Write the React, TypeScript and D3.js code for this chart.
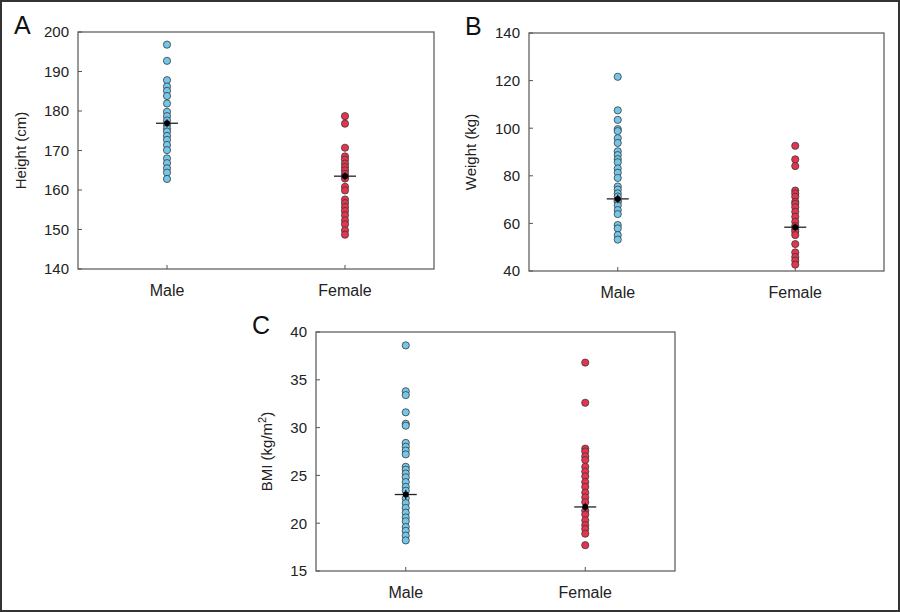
import React from "react";
import * as d3 from "d3";

const groups = ["Male", "Female"];

const heightMale = [196.8, 192.7, 187.8, 186.2, 185.1, 183.8, 181.9, 179.8, 178.7, 177.6, 176.5, 175.5, 174.8, 173.7, 172.7, 171.4, 170.1, 168.0, 166.8, 165.5, 164.4, 162.8];
const heightFemale = [178.7, 176.8, 170.7, 168.5, 167.7, 166.7, 165.8, 165.0, 164.1, 163.3, 162.9, 160.8, 159.9, 157.6, 156.7, 155.7, 154.7, 153.6, 152.3, 151.3, 149.8, 148.7];
const weightMale = [121.6, 107.5, 103.5, 99.6, 98.8, 95.8, 93.8, 90.3, 88.7, 87.0, 85.7, 83.1, 81.3, 79.1, 75.5, 74.2, 72.6, 71.3, 69.5, 69.1, 67.6, 65.6, 63.9, 59.3, 57.9, 55.1, 53.2];
const weightFemale = [92.6, 86.9, 84.1, 73.8, 72.6, 71.2, 69.1, 68.2, 66.8, 64.9, 62.8, 60.7, 58.9, 57.5, 56.5, 55.1, 51.3, 47.8, 45.9, 44.4, 42.7];
const bmiMale = [38.6, 33.8, 33.4, 31.6, 30.4, 30.2, 28.4, 28.0, 27.6, 27.2, 25.9, 25.6, 25.2, 24.8, 24.3, 23.8, 23.4, 22.6, 22.1, 21.6, 21.1, 20.6, 20.2, 19.6, 19.2, 18.7, 18.2];
const bmiFemale = [36.8, 32.6, 27.8, 27.5, 27.0, 26.6, 25.9, 25.4, 24.9, 24.3, 23.8, 23.2, 22.7, 22.2, 21.3, 20.9, 20.3, 19.8, 19.4, 18.9, 17.7];

const heightMeans = [176.9, 163.5];
const weightMeans = [70.3, 58.4];
const bmiMeans = [23.0, 21.7];
const heightSem = [1.0, 1.0];
const weightSem = [1.8, 1.6];
const bmiSem = [0.5, 0.45];

const heightTicks = [140, 150, 160, 170, 180, 190, 200];
const weightTicks = [40, 60, 80, 100, 120, 140];
const bmiTicks = [15, 20, 25, 30, 35, 40];

const COLORS = ["#72c7ea", "#e5344f"];
const FONT = "'Liberation Sans', Arial, sans-serif";

type PanelProps = {
  letter: string;
  box: { x0: number; x1: number; y0: number; y1: number };
  domain: [number, number];
  ticks: number[];
  series: number[][];
  means: number[];
  sem: number[];
  title: React.ReactNode;
  titleX: number;
};

function Panel({ letter, box, domain, ticks, series, means, sem, title, titleX }: PanelProps) {
  const x = d3.scalePoint<string>().domain(groups).range([box.x0, box.x1]).padding(0.5);
  const y = d3.scaleLinear().domain(domain).range([box.y1, box.y0]);
  const tl = 4;
  return (
    <g fontFamily={FONT}>
      <text x={box.x0 - 64} y={box.y0 + 2} fontSize={25} fill="#111">{letter}</text>
      <rect x={box.x0} y={box.y0} width={box.x1 - box.x0} height={box.y1 - box.y0} fill="none" stroke="#555" strokeWidth={1.2} />
      {ticks.map((t) => (
        <g key={t}>
          <line x1={box.x0} x2={box.x0 + tl} y1={y(t)} y2={y(t)} stroke="#555" strokeWidth={1} />
          <text x={box.x0 - 9} y={y(t)} dy="0.36em" textAnchor="end" fontSize={15} fill="#222">{t}</text>
        </g>
      ))}
      {groups.map((g) => (
        <g key={g}>
          <line x1={x(g)} x2={x(g)} y1={box.y1} y2={box.y1 - tl} stroke="#555" strokeWidth={1} />
          <text x={x(g)} y={box.y1 + 27} textAnchor="middle" fontSize={16} fill="#222">{g}</text>
        </g>
      ))}
      <text transform={`translate(${titleX},${(box.y0 + box.y1) / 2}) rotate(-90)`} textAnchor="middle" fontSize={15} fill="#222">{title}</text>
      {series.map((vals, gi) =>
        vals.map((v, i) => (
          <circle key={`${gi}-${i}`} cx={x(groups[gi])} cy={y(v)} r={3.6} fill={COLORS[gi]} stroke="#3a3a3a" strokeWidth={0.8} />
        ))
      )}
      {means.map((m, gi) => {
        const cx = x(groups[gi]) as number;
        return (
          <g key={`m${gi}`}>
            <line x1={cx - 11} x2={cx + 11} y1={y(m)} y2={y(m)} stroke="#222" strokeWidth={1.3} />
            <line x1={cx} x2={cx} y1={y(m - sem[gi])} y2={y(m + sem[gi])} stroke="#222" strokeWidth={1.3} />
            <circle cx={cx} cy={y(m)} r={3} fill="#000" />
          </g>
        );
      })}
    </g>
  );
}

export default function App() {
  return (
    <div style={{ position: "absolute", left: 0, top: 0 }}>
      <svg width={900} height={612} style={{ display: "block", background: "#fff" }}>
        <rect x={1} y={1} width={898} height={610} fill="#fff" stroke="#333" strokeWidth={2} />
        <Panel
          letter="A"
          box={{ x0: 78, x1: 434, y0: 32, y1: 269 }}
          domain={[140, 200]}
          ticks={heightTicks}
          series={[heightMale, heightFemale]}
          means={heightMeans}
          sem={heightSem}
          title="Height (cm)"
          titleX={26}
        />
        <Panel
          letter="B"
          box={{ x0: 529, x1: 884, y0: 33, y1: 271 }}
          domain={[40, 140]}
          ticks={weightTicks}
          series={[weightMale, weightFemale]}
          means={weightMeans}
          sem={weightSem}
          title="Weight (kg)"
          titleX={476}
        />
        <Panel
          letter="C"
          box={{ x0: 316, x1: 675, y0: 332, y1: 571 }}
          domain={[15, 40]}
          ticks={bmiTicks}
          series={[bmiMale, bmiFemale]}
          means={bmiMeans}
          sem={bmiSem}
          title={<>BMI (kg/m<tspan baselineShift="super" fontSize={11}>2</tspan>)</>}
          titleX={272}
        />
      </svg>
    </div>
  );
}
